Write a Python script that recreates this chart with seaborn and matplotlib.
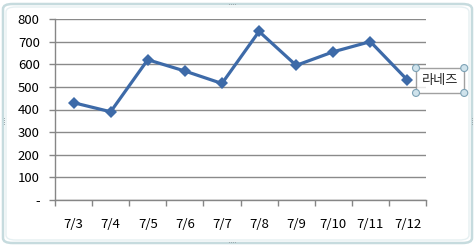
import matplotlib
matplotlib.use("Agg")
import matplotlib.pyplot as plt
import seaborn as sns
import pandas as pd
from matplotlib.patches import FancyBboxPatch, Ellipse

dates = ["7/3", "7/4", "7/5", "7/6", "7/7", "7/8", "7/9", "7/10", "7/11", "7/12"]
values = [430, 390, 620, 570, 515, 745, 595, 655, 700, 530]
series_name = "라네즈"
yticks = [0, 100, 200, 300, 400, 500, 600, 700, 800]
ytick_labels = ["-", "100", "200", "300", "400", "500", "600", "700", "800"]

sns.set_theme(style="white")
plt.rcParams["font.family"] = ["Noto Sans CJK KR", "DejaVu Sans"]

W, H = 476, 246
fig = plt.figure(figsize=(W / 100, H / 100), dpi=100)
fig.patch.set_facecolor("white")

ax = fig.add_axes([55 / W, 1 - 200 / H, (426 - 55) / W, (200 - 19) / H])

df = pd.DataFrame({"date": dates, "value": values, "series": series_name})
df["x"] = range(len(dates))
sns.lineplot(data=df, x="x", y="value", hue="series", palette=["#3d6aa8"],
             marker="D", markersize=6, markeredgewidth=0, linewidth=2.3, ax=ax)

ax.set_xlim(-0.5, len(dates) - 0.5)
ax.set_ylim(0, 800)
ax.set_yticks(yticks)
ax.set_yticklabels(ytick_labels)
ax.set_xticks(range(len(dates)))
ax.set_xticklabels(dates)
ax.set_xticks([i - 0.5 for i in range(len(dates) + 1)], minor=True)
ax.set_xlabel("")
ax.set_ylabel("")
ax.grid(axis="y", color="#8a8a8a", linewidth=1)
ax.set_axisbelow(True)
for s in ["top", "right"]:
    ax.spines[s].set_visible(False)
for s in ["left", "bottom"]:
    ax.spines[s].set_color("#868686")
    ax.spines[s].set_linewidth(1)
ax.tick_params(axis="y", which="major", length=4, width=1, color="#868686",
               labelsize=9.5, pad=7, labelcolor="black", left=True)
ax.tick_params(axis="x", which="major", length=0, labelsize=9.5, pad=13,
               labelcolor="black")
ax.tick_params(axis="x", which="minor", length=4, width=1, color="#868686",
               bottom=True)

leg = ax.legend(loc="center left", bbox_to_anchor=(416 / W, 1 - 80.5 / H),
                bbox_transform=fig.transFigure, handlelength=0, handletextpad=0,
                frameon=True, fancybox=False, edgecolor="#8a8a8a",
                fontsize=9.5, borderpad=0.45, borderaxespad=0)
leg.get_frame().set_linewidth(1)
leg.set_zorder(20)
for h in leg.legend_handles:
    h.set_visible(False)

# outer chart frame
frame = FancyBboxPatch((3 / W, 3 / H), (W - 7) / W, (H - 7) / H,
                       boxstyle="round,pad=0,rounding_size=0.02",
                       transform=fig.transFigure, facecolor="none",
                       edgecolor="#c6dbde", linewidth=1.8, zorder=0)
fig.patches.append(frame)
frame2 = FancyBboxPatch((6 / W, 6 / H), (W - 13) / W, (H - 13) / H,
                        boxstyle="round,pad=0,rounding_size=0.02",
                        transform=fig.transFigure, facecolor="none",
                        edgecolor="#e6f0f2", linewidth=1, zorder=0)
fig.patches.append(frame2)

# selection handles on legend
fig.canvas.draw()
bb = leg.get_frame().get_window_extent()
for (px, py) in [(bb.x0, bb.y0), (bb.x1, bb.y0), (bb.x0, bb.y1), (bb.x1, bb.y1)]:
    e = Ellipse((px / W, py / H), 7 / W, 7 / H, transform=fig.transFigure,
                facecolor="#cfe3ec", edgecolor="#7ea3b6", linewidth=0.8, zorder=30)
    fig.add_artist(e)

# dotted grips on frame
for (gx, gy, horiz) in [(232, 4, True), (232, 242, True), (4, 121, False), (472, 121, False)]:
    for k in range(4):
        dx, dy = (k * 2 - 3, 0) if horiz else (0, k * 2 - 3)
        fig.add_artist(plt.Line2D([(gx + dx) / W], [1 - (gy + dy) / H], marker="s",
                                  markersize=0.6, markeredgewidth=0, color="#9aa8ac",
                                  transform=fig.transFigure, linestyle="none"))

fig.savefig("out.png", dpi=100)
